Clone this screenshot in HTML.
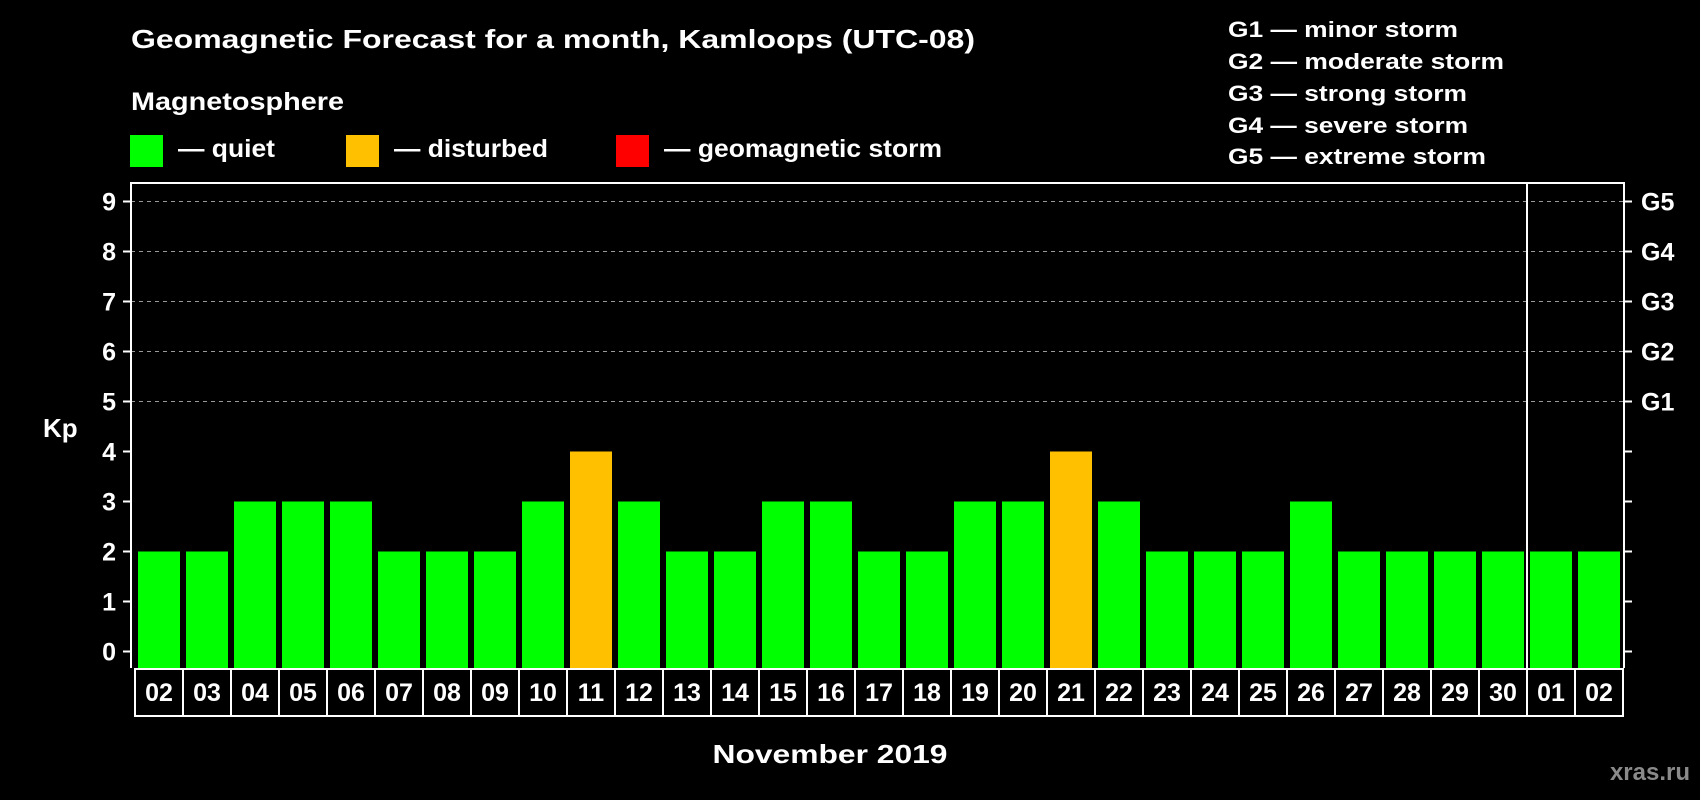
<!DOCTYPE html>
<html><head><meta charset="utf-8"><style>
html,body{margin:0;padding:0;background:#000;}
svg{display:block;font-family:"Liberation Sans",Arial,sans-serif;font-weight:bold;}
</style></head><body>
<svg id="chart" width="1700" height="800" viewBox="0 0 1700 800" xmlns="http://www.w3.org/2000/svg">
<rect width="1700" height="800" fill="#000"/>
<text x="131" y="48" fill="#fff" font-size="26" textLength="844" lengthAdjust="spacingAndGlyphs">Geomagnetic Forecast for a month, Kamloops (UTC-08)</text>
<text x="131" y="110" fill="#fff" font-size="25" textLength="213" lengthAdjust="spacingAndGlyphs">Magnetosphere</text>
<g><rect x="130" y="135" width="33" height="32" fill="#00ff00"/><text x="178" y="157" fill="#fff" font-size="25" textLength="97" lengthAdjust="spacingAndGlyphs">— quiet</text></g>
<g><rect x="346" y="135" width="33" height="32" fill="#ffc000"/><text x="394" y="157" fill="#fff" font-size="25" textLength="154" lengthAdjust="spacingAndGlyphs">— disturbed</text></g>
<g><rect x="616" y="135" width="33" height="32" fill="#ff0000"/><text x="664" y="157" fill="#fff" font-size="25" textLength="278" lengthAdjust="spacingAndGlyphs">— geomagnetic storm</text></g>
<g fill="#fff" font-size="22">
<text x="1228" y="37" textLength="230" lengthAdjust="spacingAndGlyphs">G1 — minor storm</text>
<text x="1228" y="69" textLength="276" lengthAdjust="spacingAndGlyphs">G2 — moderate storm</text>
<text x="1228" y="101" textLength="239" lengthAdjust="spacingAndGlyphs">G3 — strong storm</text>
<text x="1228" y="133" textLength="240" lengthAdjust="spacingAndGlyphs">G4 — severe storm</text>
<text x="1228" y="164" textLength="258" lengthAdjust="spacingAndGlyphs">G5 — extreme storm</text>
</g>
<text x="43" y="437" fill="#fff" font-size="26">Kp</text>
<text x="830" y="763" fill="#fff" font-size="26" text-anchor="middle" textLength="235" lengthAdjust="spacingAndGlyphs">November 2019</text>
<text x="1690" y="780" fill="#8a8a8a" font-size="24" text-anchor="end">xras.ru</text>
<g id="plot"></g>
</svg>
<script>
const days = ["02","03","04","05","06","07","08","09","10","11","12","13","14","15","16","17","18","19","20","21","22","23","24","25","26","27","28","29","30","01","02"];
const kp = [2,2,3,3,3,2,2,2,3,4,3,2,2,3,3,2,2,3,3,4,3,2,2,2,3,2,2,2,2,2,2];
const yTicks = [0,1,2,3,4,5,6,7,8,9];
const gLabels = ["G1","G2","G3","G4","G5"];
const gLevels = [5,6,7,8,9];
const monthBreak = 29;

(function () {
  const NS = "http://www.w3.org/2000/svg";
  const plotG = document.getElementById('plot');
  const plotLeft = 131, plotRight = 1624, plotTop = 183, plotBottom = 668;
  const x0 = 135, pitch = 48;
  const yScale = v => 651.5 - v * 50;
  const xScale = i => x0 + i * pitch;
  function mk(tag, attrs) {
    const e = document.createElementNS(NS, tag);
    for (const k in attrs) e.setAttribute(k, attrs[k]);
    plotG.appendChild(e);
    return e;
  }
  gLevels.forEach(v => {
    const l = mk('line', {x1: plotLeft, x2: plotRight, y1: yScale(v), y2: yScale(v), stroke: '#999', 'stroke-width': 1, 'stroke-dasharray': '4,4'});
    
    
  });
  kp.forEach((v, i) => {
    const col = v >= 5 ? '#ff0000' : (v >= 4 ? '#ffc000' : '#00ff00');
    const r = mk('rect', {x: xScale(i) + 3, y: yScale(v), width: 42, height: plotBottom - yScale(v), fill: col});
    
    
  });
  const frame = mk('path', {d: `M${plotLeft},${plotBottom} V${plotTop} H${plotRight} V${plotBottom}`, stroke: '#fff', 'stroke-width': 2, fill: 'none'});
  
  
  yTicks.forEach(v => {
    const t1 = mk('line', {x1: plotLeft - 8, x2: plotLeft, y1: yScale(v), y2: yScale(v), stroke: '#fff', 'stroke-width': 2});
    
    
    const t2 = mk('line', {x1: plotRight, x2: plotRight + 8, y1: yScale(v), y2: yScale(v), stroke: '#fff', 'stroke-width': 2});
    
    
    const t = mk('text', {x: 116, y: yScale(v) + 9, fill: '#fff', 'font-size': 25, 'text-anchor': 'end'});
    t.textContent = v;
    
    
  });
  gLabels.forEach((s, i) => {
    const t = mk('text', {x: 1641, y: yScale(gLevels[i]) + 9, fill: '#fff', 'font-size': 25});
    t.textContent = s;
    
    
  });
  days.forEach((d, i) => {
    const r = mk('rect', {x: xScale(i), y: plotBottom + 1, width: pitch, height: 47, fill: '#000', stroke: '#fff', 'stroke-width': 2});
    
    
    const t = mk('text', {x: xScale(i) + pitch / 2, y: plotBottom + 33, fill: '#fff', 'font-size': 25, 'text-anchor': 'middle'});
    t.textContent = d;
    
    
  });
  const dv = mk('line', {x1: xScale(monthBreak), x2: xScale(monthBreak), y1: plotTop, y2: plotBottom + 48, stroke: '#fff', 'stroke-width': 2});
  
  
})();
</script>
</body></html>
